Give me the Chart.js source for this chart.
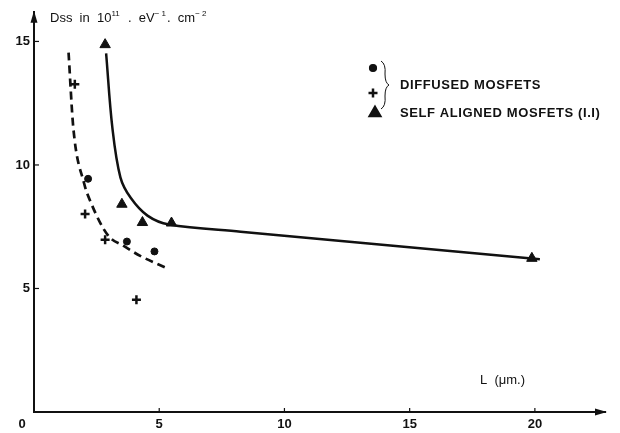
<!DOCTYPE html>
<html>
<head>
<meta charset="utf-8">
<script src="https://cdn.jsdelivr.net/npm/chart.js@4/dist/chart.umd.min.js"></script>
<style>
  html, body { margin: 0; padding: 0; background: #fff; }
  #wrap { width: 620px; height: 433px; position: relative; }
</style>
</head>
<body>
<div id="wrap"><canvas id="chart"></canvas></div>
<script>
// --- data ---
const dashX = [1.38, 1.57, 2.0, 2.27, 2.94, 3.6, 4.26, 5.37];
const dashY = [14.55, 11.5, 9.26, 8.48, 7.17, 6.71, 6.31, 5.79];
const solidX = [2.88, 3.13, 3.45, 3.86, 4.53, 5.39, 8.25, 20.2];
const solidY = [14.52, 11.5, 9.5, 8.67, 7.95, 7.59, 7.30, 6.18];

const dotX = [2.16, 3.71, 4.81];
const dotY = [9.44, 6.90, 6.50];
const crossX = [1.63, 2.04, 2.84, 4.09];
const crossY = [13.27, 8.02, 6.97, 4.54];
const triX = [2.84, 3.51, 4.33, 5.49, 19.88];
const triY = [14.87, 8.41, 7.67, 7.65, 6.22];

const xTicks = [0, 5, 10, 15, 20];
const yTicks = [5, 10, 15];
// y title as pieces: [text, superscript?]
const yTitle = [['Dss  in  10', false], ['11', true], ['  .  eV', false], ['\u2212 1', true],
                ['.  cm', false], ['\u2212 2', true]];
const xTitle = 'L  (\u03BCm.)';
const legendDiffused = 'DIFFUSED MOSFETS';
const legendSelf = 'SELF ALIGNED MOSFETS (I.I)';

const pts = (xs, ys) => xs.map((x, i) => ({ x: x, y: ys[i] }));
const INK = '#111';
const FONT = '"Liberation Sans", Arial, sans-serif';

// axes decorations, legend, titles
const decor = {
  id: 'decor',
  afterDraw(chart) {
    const ctx = chart.ctx;
    const xs = chart.scales.x, ys = chart.scales.y;
    const x0 = xs.left, y0 = ys.bottom;
    ctx.save();
    ctx.fillStyle = INK;
    ctx.strokeStyle = INK;

    // arrowheads
    ctx.beginPath();
    ctx.moveTo(xs.right + 2, y0);
    ctx.lineTo(xs.right - 10, y0 - 3.5);
    ctx.lineTo(xs.right - 10, y0 + 3.5);
    ctx.closePath();
    ctx.fill();
    ctx.beginPath();
    ctx.moveTo(x0, ys.top - 1);
    ctx.lineTo(x0 - 3.5, ys.top + 11);
    ctx.lineTo(x0 + 3.5, ys.top + 11);
    ctx.closePath();
    ctx.fill();

    // inward tick marks
    ctx.lineWidth = 1.2;
    xTicks.forEach(v => {
      if (v === 0) return;
      const p = xs.getPixelForValue(v);
      ctx.beginPath(); ctx.moveTo(p, y0); ctx.lineTo(p, y0 - 4); ctx.stroke();
    });
    yTicks.forEach(v => {
      const p = ys.getPixelForValue(v);
      ctx.beginPath(); ctx.moveTo(x0, p); ctx.lineTo(x0 + 5, p); ctx.stroke();
    });

    // origin label
    ctx.font = 'bold 13px ' + FONT;
    ctx.textAlign = 'center';
    ctx.textBaseline = 'middle';
    ctx.fillText('0', 22, 424);

    // axis titles
    ctx.textAlign = 'left';
    ctx.textBaseline = 'alphabetic';
    let tx = 50;
    yTitle.forEach(([t, sup]) => {
      ctx.font = (sup ? '8px ' : '13px ') + FONT;
      ctx.fillText(t, tx, sup ? 16 : 22);
      tx += ctx.measureText(t).width + (sup ? 1 : 0);
    });
    ctx.font = '13px ' + FONT;
    ctx.textBaseline = 'middle';
    ctx.fillText(xTitle, 480, 380);

    // legend
    const draw = Chart.helpers.drawPoint;
    draw(ctx, { pointStyle: 'circle', radius: 3.5, borderWidth: 1 }, 373, 68);
    ctx.lineWidth = 2.5;
    draw(ctx, { pointStyle: 'cross', radius: 4.5, borderWidth: 2.5 }, 373, 93);
    draw(ctx, { pointStyle: 'triangle', radius: 6, borderWidth: 1 }, 375, 113);

    // brace
    ctx.lineWidth = 1;
    ctx.beginPath();
    ctx.moveTo(381, 61);
    ctx.quadraticCurveTo(386, 64, 385, 74);
    ctx.quadraticCurveTo(385, 83, 389, 85);
    ctx.quadraticCurveTo(385, 87, 385, 96);
    ctx.quadraticCurveTo(386, 106, 381, 109);
    ctx.stroke();

    ctx.font = 'bold 13px ' + FONT;
    ctx.letterSpacing = '0.6px';
    ctx.fillText(legendDiffused, 400, 85);
    ctx.fillText(legendSelf, 400, 113);
    ctx.restore();
  }
};

new Chart(document.getElementById('chart'), {
  type: 'scatter',
  data: {
    datasets: [
      {
        data: pts(dashX, dashY), showLine: true, pointRadius: 0,
        borderColor: INK, borderWidth: 2.7, borderDash: [8, 5],
        cubicInterpolationMode: 'monotone'
      },
      {
        data: pts(solidX, solidY), showLine: true, pointRadius: 0,
        borderColor: INK, borderWidth: 2.5, tension: 0.35
      },
      {
        data: pts(dotX, dotY), pointStyle: 'circle', pointRadius: 3.5,
        backgroundColor: INK, borderColor: INK, borderWidth: 1
      },
      {
        data: pts(crossX, crossY), pointStyle: 'cross', pointRadius: 4.5,
        borderColor: INK, borderWidth: 2.5
      },
      {
        data: pts(triX, triY), pointStyle: 'triangle', pointRadius: 6,
        backgroundColor: INK, borderColor: INK, borderWidth: 1
      }
    ]
  },
  options: {
    responsive: true,
    maintainAspectRatio: false,
    animation: false,
    layout: { padding: { top: 2, right: 15, left: 0, bottom: 0 } },
    plugins: { legend: { display: false }, tooltip: { enabled: false } },
    scales: {
      x: {
        type: 'linear', min: 0, max: 22.8,
        afterBuildTicks: s => { s.ticks = xTicks.map(v => ({ value: v })); },
        afterFit: s => { s.height = 21; },
        grid: { display: false, drawTicks: false, tickLength: 0 },
        border: { display: true, color: INK, width: 2 },
        ticks: {
          color: INK, padding: 5, maxRotation: 0,
          font: { family: FONT, size: 13, weight: 'bold' },
          callback: v => (v === 0 ? '' : v)
        }
      },
      y: {
        type: 'linear', min: 0, max: 16.2,
        afterBuildTicks: s => { s.ticks = yTicks.map(v => ({ value: v })); },
        afterFit: s => { s.width = 34; },
        grid: { display: false, drawTicks: false, tickLength: 0 },
        border: { display: true, color: INK, width: 2 },
        ticks: {
          color: INK, padding: 4,
          font: { family: FONT, size: 13, weight: 'bold' }
        }
      }
    }
  },
  plugins: [decor]
});
</script>
</body>
</html>
